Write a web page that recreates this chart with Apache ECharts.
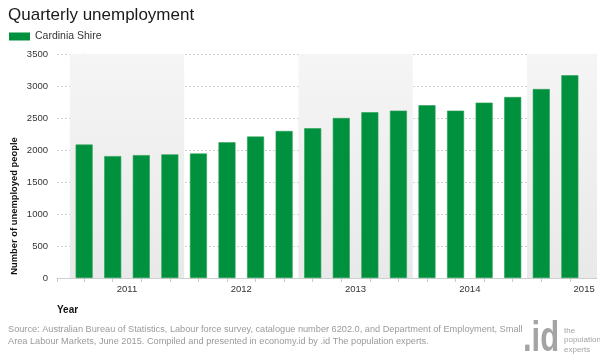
<!DOCTYPE html>
<html>
<head>
<meta charset="utf-8">
<script src="https://cdn.jsdelivr.net/npm/echarts@6/dist/echarts.min.js"></script>
<style>
html,body{margin:0;padding:0;background:#fff;}
#chart{width:600px;height:356px;}
</style>
</head>
<body>
<div id="chart"></div>
<script>
// ---- data ----
var quarters = ['Mar 2011','Jun 2011','Sep 2011','Dec 2011','Mar 2012','Jun 2012','Sep 2012','Dec 2012','Mar 2013','Jun 2013','Sep 2013','Dec 2013','Mar 2014','Jun 2014','Sep 2014','Dec 2014','Mar 2015','Jun 2015'];
var unemployed = [2085, 1905, 1920, 1932, 1945, 2120, 2210, 2297, 2340, 2500, 2590, 2615, 2700, 2615, 2740, 2828, 2953, 3168];
var years = ['2011','2012','2013','2014','2015'];
var yTicks = [0, 500, 1000, 1500, 2000, 2500, 3000, 3500];
var seriesName = 'Cardinia Shire';

var FONT = 'Liberation Sans, Arial, sans-serif';
var X_MIN = -0.95, X_MAX = 17.95;

// quarter index positions
var barData = unemployed.map(function(v, i){ return [i, v]; });
var tickVals = [X_MIN].concat(quarters.map(function(q, i){ return i; }));
var yearLabelVals = years.map(function(y, k){ return k * 4 + 1.5; });
var bands = [];
years.forEach(function(y, k){
  if (k % 2 === 0) {
    bands.push([{xAxis: k * 4 - 0.5}, {xAxis: Math.min(k * 4 + 3.5, X_MAX)}]);
  }
});

var chart = echarts.init(document.getElementById('chart'), null, {renderer: 'canvas'});
chart.setOption({
  animation: false,
  textStyle: {fontFamily: FONT},
  title: {
    text: 'Quarterly unemployment',
    left: 3, top: 2,
    textStyle: {fontFamily: FONT, fontSize: 17, fontWeight: 'normal', color: '#1a1a1a'}
  },
  legend: {
    left: 4, top: 26,
    itemWidth: 21, itemHeight: 8, itemGap: 10,
    icon: 'rect',
    itemStyle: {borderWidth: 0},
    textStyle: {fontFamily: FONT, fontSize: 10.5, color: '#333'},
    data: [seriesName]
  },
  grid: {left: 57, right: 3, top: 54, bottom: 78, containLabel: false},
  xAxis: {
    type: 'value',
    min: X_MIN, max: X_MAX,
    axisLine: {show: true, lineStyle: {color: '#cfcfcf', width: 1}},
    axisTick: {show: true, length: 4, lineStyle: {color: '#c8c8c8'}, customValues: tickVals},
    axisLabel: {
      customValues: yearLabelVals,
      formatter: function(v){ return years[Math.round((v - 1.5) / 4)]; },
      fontFamily: FONT, fontSize: 9.5, color: '#333', margin: 6
    },
    splitLine: {show: false}
  },
  yAxis: {
    type: 'value',
    min: yTicks[0], max: yTicks[yTicks.length - 1], interval: 500,
    axisLine: {show: true, lineStyle: {color: '#d5d5d5'}},
    axisTick: {show: true, length: 6, lineStyle: {color: '#c8c8c8'}},
    axisLabel: {fontFamily: FONT, fontSize: 9.5, color: '#333', margin: 9,
      formatter: function(v){ return String(v); }},
    splitLine: {show: true, lineStyle: {color: '#cfcfcf', type: [2, 2], width: 1}}
  },
  series: [
    {
      type: 'line',
      name: 'bands',
      data: [],
      z: -1,
      silent: true,
      markArea: {
        silent: true,
        itemStyle: {
          color: {type: 'linear', x: 0, y: 0, x2: 0, y2: 1,
            colorStops: [{offset: 0, color: '#f5f5f5'}, {offset: 1, color: '#e9e9e9'}]}
        },
        data: bands
      }
    },
    {
      type: 'bar',
      name: seriesName,
      data: barData,
      barWidth: 17,
      z: 3,
      itemStyle: {color: '#00913f', borderColor: '#2a9f55', borderWidth: 0.6}
    }
  ],
  graphic: [
    {
      type: 'text', x: 14, y: 206, rotation: Math.PI / 2,
      style: {text: 'Number of unemployed people', font: 'bold 9.4px ' + FONT, fill: '#111',
        textAlign: 'center', textVerticalAlign: 'middle'}
    },
    {
      type: 'text', left: 57, top: 305,
      style: {text: 'Year', font: 'bold 10px ' + FONT, fill: '#111'}
    },
    {
      type: 'text', left: 8, top: 323,
      style: {text: 'Source: Australian Bureau of Statistics, Labour force survey, catalogue number 6202.0, and Department of Employment, Small\nArea Labour Markets, June 2015. Compiled and presented in economy.id by .id The population experts.',
        font: '9.2px ' + FONT, fill: '#9a9a9a', lineHeight: 12}
    },
    {
      type: 'text', x: 523, y: 318, scaleX: 0.72,
      style: {text: '.id', font: 'bold 43px ' + FONT, fill: '#a4a4a4'}
    },
    {
      type: 'text', left: 564, top: 326,
      style: {text: 'the\npopulation\nexperts', font: '8px ' + FONT, fill: '#a4a4a4', lineHeight: 9.5}
    }
  ]
});
</script>
</body>
</html>
